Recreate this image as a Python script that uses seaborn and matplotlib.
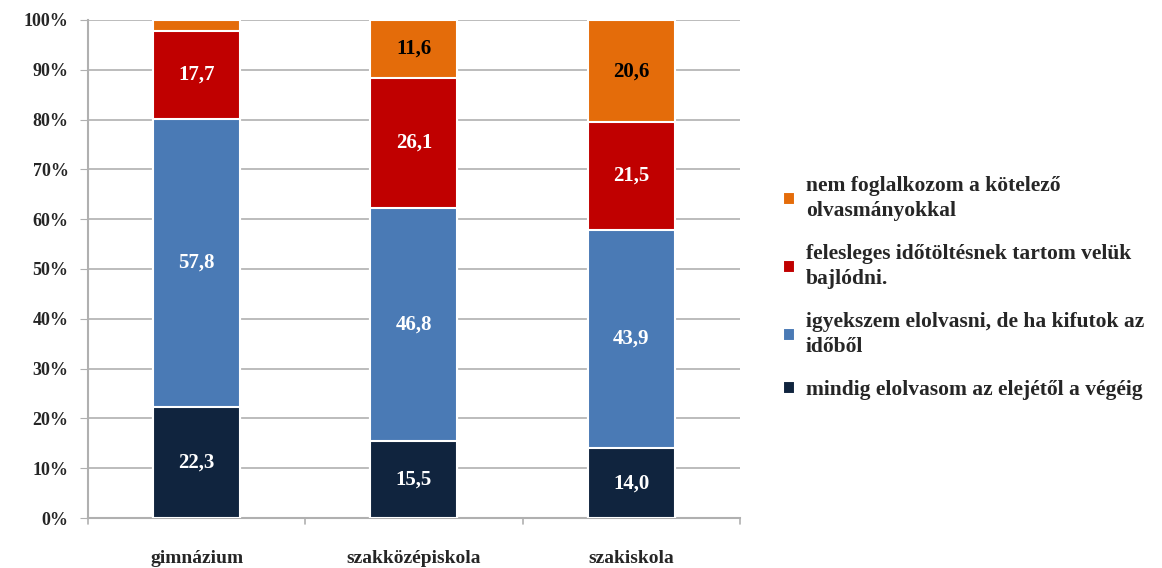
import matplotlib.pyplot as plt
import pandas as pd
import seaborn as sns

categories = ['gimnázium', 'szakközépiskola', 'szakiskola']
series = [
    'mindig elolvasom az elejétől a végéig',
    'igyekszem elolvasni, de ha kifutok az\nidőből',
    'felesleges időtöltésnek tartom velük\nbajlódni.',
    'nem foglalkozom a kötelező\nolvasmányokkal',
]
mindig = [22.3, 15.5, 14.0]
igyekszem = [57.8, 46.8, 43.9]
felesleges = [17.7, 26.1, 21.5]
nem = [2.2, 11.6, 20.6]
show_label = [[True] * 3, [True] * 3, [True] * 3, [False, True, True]]

colors = ['#10243E', '#4A7AB5', '#C00000', '#E46C0A']
label_colors = ['white', 'white', 'white', 'black']

values = [mindig, igyekszem, felesleges, nem]

sns.set_style('white')
plt.rcParams['font.family'] = ['Liberation Serif', 'DejaVu Serif']
plt.rcParams['font.weight'] = 'bold'

fig = plt.figure(figsize=(11.62, 5.68), dpi=100)
ax = fig.add_axes([0.0757, 0.088, 0.561, 0.877])

# cumulative tops, draw tallest first so shorter layers sit over them
cum = []
run = [0.0] * len(categories)
for v in values:
    run = [r + x for r, x in zip(run, v)]
    cum.append(run)

for i in reversed(range(len(values))):
    df = pd.DataFrame({'cat': categories, 'top': cum[i]})
    sns.barplot(data=df, x='cat', y='top', color=colors[i], width=0.40,
                edgecolor='white', linewidth=1.5, saturation=1, ax=ax,
                label=series[i], zorder=3)

for i, v in enumerate(values):
    for j, val in enumerate(v):
        if not show_label[i][j]:
            continue
        y = cum[i][j] - val / 2
        ax.text(j, y, f'{val:.1f}'.replace('.', ','), ha='center', va='center',
                color=label_colors[i], fontsize=15, fontweight='bold', zorder=5)

ax.set_ylim(0, 100)
ax.set_xlim(-0.5, 2.5)
ax.set_yticks(range(0, 101, 10))
ax.set_yticklabels([f'{t}%' for t in range(0, 101, 10)], fontsize=13)
ax.yaxis.grid(True, color='#B0B0B0', linewidth=1.2, zorder=0)
ax.set_axisbelow(True)
ax.set_xlabel('')
ax.set_ylabel('')
ax.tick_params(axis='x', labelsize=14, pad=23, length=0)
ax.tick_params(axis='y', length=6, color='#B0B0B0', left=True, pad=8)

for s in ['top', 'right']:
    ax.spines[s].set_visible(False)
for s in ['left', 'bottom']:
    ax.spines[s].set_color('#B0B0B0')
    ax.spines[s].set_linewidth(1.5)

# category boundary ticks on the x axis
for b in [-0.5, 0.5, 1.5, 2.5]:
    ax.plot([b, b], [0, -1.2], color='#B0B0B0', lw=1.2, clip_on=False)

handles, labels = ax.get_legend_handles_labels()
leg = ax.legend(handles, labels, loc='upper left', bbox_to_anchor=(1.037, 0.725),
                frameon=False, fontsize=15.5, handlelength=0.55, handleheight=0.55,
                labelspacing=1.05, handletextpad=0.5)
for t in leg.get_texts():
    t.set_linespacing(1.35)

fig.savefig('out.png', dpi=100)
